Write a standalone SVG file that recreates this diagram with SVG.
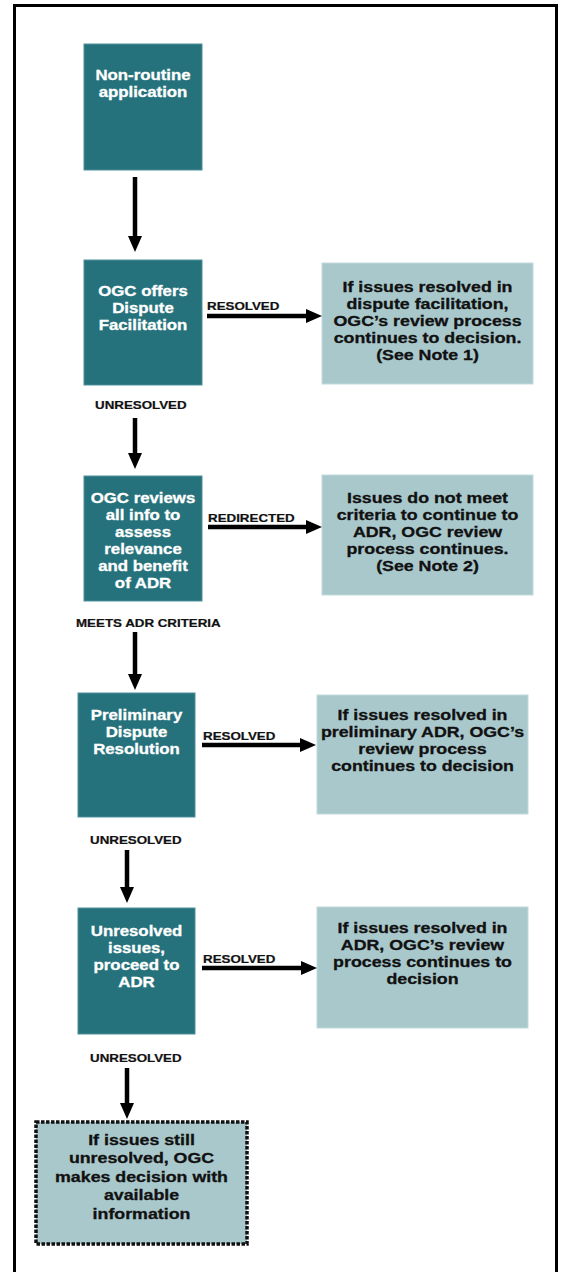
<svg xmlns="http://www.w3.org/2000/svg" width="562" height="1272" viewBox="0 0 562 1272">
<style>
.dark{fill:#26727c;stroke:#4f8f98;stroke-width:1}
.light{fill:#a9c8cc;stroke:#c3dadd;stroke-width:1}
.dotted{fill:#a9c8cc;stroke:#111;stroke-width:3.5;stroke-dasharray:3.5 1.5}
.wt{font-family:"Liberation Sans",Arial,sans-serif;font-weight:bold;font-size:14px;fill:#fff;stroke:#fff;stroke-width:0.3;text-anchor:middle}
.bt{font-family:"Liberation Sans",Arial,sans-serif;font-weight:bold;font-size:14px;fill:#111;stroke:#111;stroke-width:0.3;text-anchor:middle}
.lbl{font-family:"Liberation Sans",Arial,sans-serif;font-weight:bold;font-size:10.5px;fill:#111;stroke:#111;stroke-width:0.2}
.conn{stroke:#000;stroke-width:4.5;fill:none;marker-end:url(#ah)}
</style>
<defs>
<marker id="ah" viewBox="0 0 16 14" refX="1" refY="7" markerWidth="16" markerHeight="14" markerUnits="userSpaceOnUse" orient="auto">
<path d="M0,0 L16,7 L0,14 z" fill="#000"/>
</marker>
</defs>
<rect x="0" y="0" width="562" height="1272" fill="#fff"/>
<rect id="frame" x="14.5" y="5.5" width="542" height="1275" fill="none" stroke="#000" stroke-width="3"/>

<g id="n1">
<rect class="dark" x="84" y="44" width="118" height="126"/>
<text class="wt" transform="matrix(1.2 0 0 1 143 0)"><tspan x="0" y="80">Non-routine</tspan><tspan x="0" y="97">application</tspan></text>
</g>
<g id="n2">
<rect class="dark" x="84" y="260" width="118" height="125"/>
<text class="wt" transform="matrix(1.2 0 0 1 143 0)"><tspan x="0" y="296">OGC offers</tspan><tspan x="0" y="313">Dispute</tspan><tspan x="0" y="330">Facilitation</tspan></text>
</g>
<g id="r2">
<rect class="light" x="322" y="263" width="211" height="121"/>
<text class="bt" transform="matrix(1.27 0 0 1 427.5 0)"><tspan x="0" y="292">If issues resolved in</tspan><tspan x="0" y="309">dispute  facilitation,</tspan><tspan x="0" y="326">OGC’s review process</tspan><tspan x="0" y="343">continues to decision.</tspan><tspan x="0" y="360">(See Note 1)</tspan></text>
</g>
<g id="n3">
<rect class="dark" x="84" y="476" width="118" height="125"/>
<text class="wt" transform="matrix(1.2 0 0 1 143 0)"><tspan x="0" y="503">OGC reviews</tspan><tspan x="0" y="520">all info to</tspan><tspan x="0" y="537">assess</tspan><tspan x="0" y="554">relevance</tspan><tspan x="0" y="571">and benefit</tspan><tspan x="0" y="588">of ADR</tspan></text>
</g>
<g id="r3">
<rect class="light" x="322" y="475" width="211" height="120"/>
<text class="bt" transform="matrix(1.27 0 0 1 427.5 0)"><tspan x="0" y="503">Issues do not meet</tspan><tspan x="0" y="520">criteria to continue to</tspan><tspan x="0" y="537">ADR, OGC review</tspan><tspan x="0" y="554">process continues.</tspan><tspan x="0" y="571">(See Note 2)</tspan></text>
</g>
<g id="n4">
<rect class="dark" x="78" y="693" width="117" height="124"/>
<text class="wt" transform="matrix(1.2 0 0 1 136.5 0)"><tspan x="0" y="720">Preliminary</tspan><tspan x="0" y="737">Dispute</tspan><tspan x="0" y="754">Resolution</tspan></text>
</g>
<g id="r4">
<rect class="light" x="317" y="695" width="211" height="119"/>
<text class="bt" transform="matrix(1.27 0 0 1 422.5 0)"><tspan x="0" y="720">If issues resolved in</tspan><tspan x="0" y="737">preliminary ADR, OGC’s</tspan><tspan x="0" y="754">review process</tspan><tspan x="0" y="771">continues to decision</tspan></text>
</g>
<g id="n5">
<rect class="dark" x="78" y="908" width="117" height="126"/>
<text class="wt" transform="matrix(1.2 0 0 1 136.5 0)"><tspan x="0" y="936">Unresolved</tspan><tspan x="0" y="953">issues,</tspan><tspan x="0" y="970">proceed to</tspan><tspan x="0" y="987">ADR</tspan></text>
</g>
<g id="r5">
<rect class="light" x="317" y="907" width="211" height="121"/>
<text class="bt" transform="matrix(1.27 0 0 1 422.5 0)"><tspan x="0" y="933">If issues resolved in</tspan><tspan x="0" y="950">ADR, OGC’s review</tspan><tspan x="0" y="967">process continues to</tspan><tspan x="0" y="984">decision</tspan></text>
</g>
<g id="n6">
<rect class="dotted" x="36" y="1122" width="211" height="122"/>
<text class="bt" transform="matrix(1.27 0 0 1 141.5 0)"><tspan x="0" y="1145">If issues still</tspan><tspan x="0" y="1163">unresolved, OGC</tspan><tspan x="0" y="1182">makes decision with</tspan><tspan x="0" y="1200">available</tspan><tspan x="0" y="1219">information</tspan></text>
</g>

<g id="connectors">
<line class="conn" x1="135" y1="177" x2="135" y2="237"/>
<line class="conn" x1="135" y1="418" x2="135" y2="454"/>
<line class="conn" x1="135" y1="632" x2="135" y2="675"/>
<line class="conn" x1="127" y1="850" x2="127" y2="888"/>
<line class="conn" x1="127" y1="1068" x2="127" y2="1104"/>
<line class="conn" x1="207" y1="316" x2="307" y2="316"/>
<line class="conn" x1="208" y1="527" x2="307" y2="527"/>
<line class="conn" x1="202" y1="745" x2="301" y2="745"/>
<line class="conn" x1="202" y1="968" x2="302" y2="968"/>
<text class="lbl" transform="matrix(1.27 0 0 1 207 0)" x="0" y="310">RESOLVED</text>
<text class="lbl" transform="matrix(1.27 0 0 1 95 0)" x="0" y="409">UNRESOLVED</text>
<text class="lbl" transform="matrix(1.27 0 0 1 208 0)" x="0" y="522">REDIRECTED</text>
<text class="lbl" transform="matrix(1.27 0 0 1 76 0)" x="0" y="627">MEETS ADR CRITERIA</text>
<text class="lbl" transform="matrix(1.27 0 0 1 203 0)" x="0" y="740">RESOLVED</text>
<text class="lbl" transform="matrix(1.27 0 0 1 90 0)" x="0" y="844">UNRESOLVED</text>
<text class="lbl" transform="matrix(1.27 0 0 1 203 0)" x="0" y="963">RESOLVED</text>
<text class="lbl" transform="matrix(1.27 0 0 1 90 0)" x="0" y="1062">UNRESOLVED</text>
</g>
</svg>
